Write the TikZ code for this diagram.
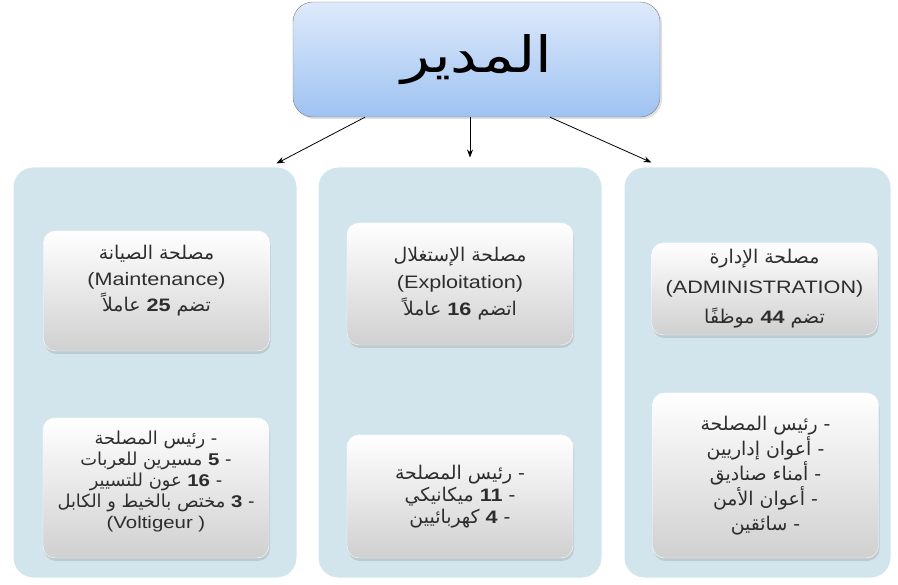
\documentclass[tikz,border=0pt]{standalone}
\usepackage{fontspec}
\setmainfont{Liberation Sans}[FakeStretch=1.2]
\newfontfamily\arabicfont[Script=Arabic, Scale=1.05]{DejaVu Sans}
\newfontfamily\bossfont[Script=Arabic, FakeStretch=1.2]{DejaVu Sans}
\TeXXeTstate=1
\usetikzlibrary{arrows.meta, shadows}

\definecolor{panelblue}{RGB}{210,229,237}
\definecolor{bosstop}{RGB}{222,234,251}
\definecolor{bossbottom}{RGB}{158,194,241}
\definecolor{cardbottom}{RGB}{208,208,208}
\definecolor{inktext}{RGB}{45,45,45}

% one right-to-left line, and a count set in the Latin face
\newcommand{\arline}[1]{{\arabicfont\beginR #1\endR}}
\newcommand{\countnb}[1]{{\rmfamily\bfseries #1}}

\begin{document}
\begin{tikzpicture}[x=1pt, y=-1pt,
    panel/.style={fill=panelblue, draw=white, line width=1pt, rounded corners=20pt},
    card/.style={top color=white, bottom color=cardbottom, draw=white, rounded corners=12pt,
        drop shadow={opacity=0.25, shadow xshift=1pt, shadow yshift=-3pt},
        minimum width=226pt, align=center, text=inktext, font=\fontsize{18}{26}\selectfont},
    arr/.style={-{Stealth[length=8pt, width=6pt]}, line width=0.8pt}]

    \useasboundingbox (0, 0) rectangle (898, 585);

    % Director
    \node[top color=bosstop, bottom color=bossbottom, draw=black!50, rounded corners=20pt,
        minimum width=367pt, minimum height=115pt,
        drop shadow={opacity=0.25, shadow xshift=2pt, shadow yshift=-2pt},
        font=\fontsize{50}{54}\selectfont] (boss) at (476.5, 59.5) {{\bossfont\beginR المدير\endR}};

    % Columns
    \node[panel, minimum width=284pt, minimum height=411pt] (maint) at (155, 372.5) {};
    \node[panel, minimum width=284pt, minimum height=411pt] (explo) at (460, 372.5) {};
    \node[panel, minimum width=267pt, minimum height=411pt] (admin) at (757.5, 372.5) {};

    % Maintenance
    \node[card, minimum height=120pt] (mainthead) at (156.5, 291) {%
        \arline{مصلحة الصيانة}\\ (Maintenance)\\ \arline{تضم \countnb{25} عاملاً}\\ \mbox{}};
    \node[card, minimum height=140pt, font=\fontsize{17}{21}\selectfont] (maintstaff) at (156, 488) {%
        \arline{- رئيس المصلحة}\\ \arline{- \countnb{5} مسيرين للعربات}\\ \arline{- \countnb{16} عون للتسيير}\\
        \arline{- \countnb{3} مختص بالخيط و الكابل}\\ (Voltigeur )\\[-4pt] \mbox{}};

    % Exploitation
    \node[card, minimum height=122pt, font=\fontsize{18}{27}\selectfont] (explohead) at (460, 284) {%
        \arline{مصلحة الإستغلال}\\ (Exploitation)\\ \arline{اتضم \countnb{16} عاملاً}};
    \node[card, minimum height=123pt, font=\fontsize{18}{22}\selectfont] (explostaff) at (460, 496.5) {%
        \arline{- رئيس المصلحة}\\ \arline{- \countnb{11} ميكانيكي}\\ \arline{- \countnb{4} كهربائيين}};

    % Administration
    \node[card, minimum height=92pt, font=\fontsize{18}{30}\selectfont] (adminhead) at (764.5, 289) {%
        \arline{مصلحة الإدارة}\\ (ADMINISTRATION)\\ \arline{تضم \countnb{44} موظفًا}};
    \node[card, minimum height=165pt, font=\fontsize{18}{25}\selectfont] (adminstaff) at (765.5, 475.5) {%
        \arline{- رئيس المصلحة}\\ \arline{- أعوان إداريين}\\ \arline{- أمناء صناديق}\\
        \arline{- أعوان الأمن}\\ \arline{- سائقين}};

    % Links from the director
    \draw[arr] ([xshift=-111.5pt]boss.south) -- ([xshift=-21pt, yshift=3pt]maint.north east);
    \draw[arr] ([xshift=-6.5pt]boss.south) -- ([xshift=10pt, yshift=9pt]explo.north);
    \draw[arr] ([xshift=73.5pt]boss.south) -- ([xshift=28pt, yshift=4pt]admin.north west);

\end{tikzpicture}
\end{document}
